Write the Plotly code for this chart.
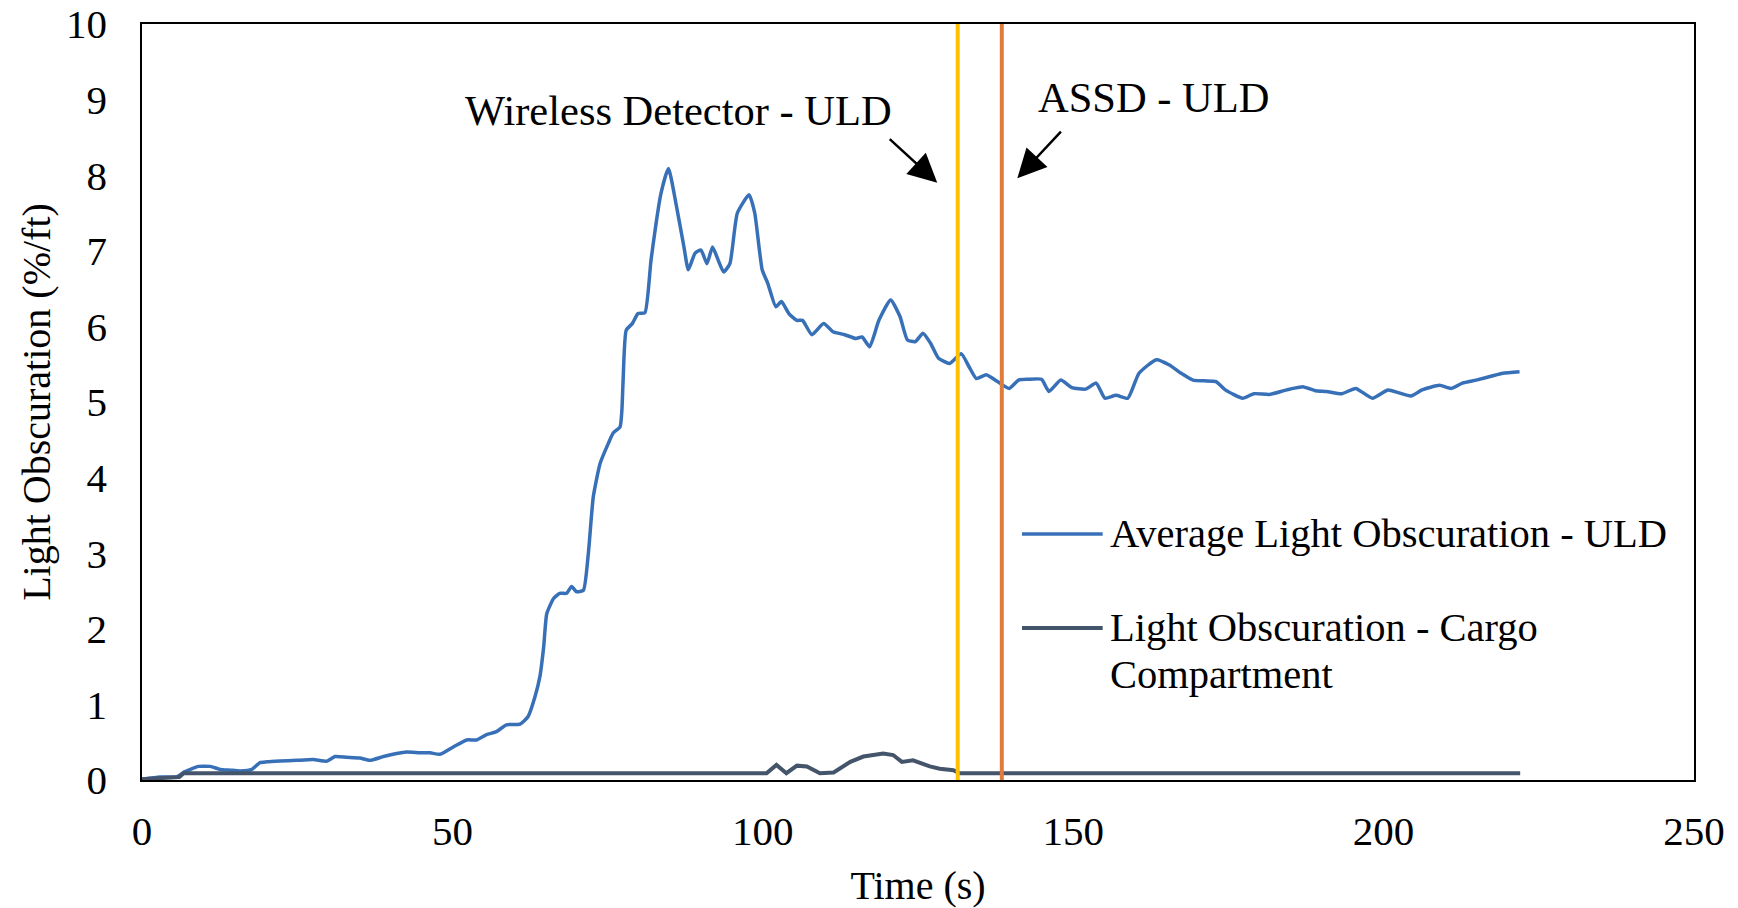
import plotly.graph_objects as go

# ---- data ----
uld_time = [0, 2.9, 5.6, 6.9, 9.1, 11.0, 12.6, 14.2, 15.8, 17.7, 19.0, 20.1, 22.2, 24.9, 27.6, 29.8,
            31.1, 33.0, 35.1, 36.7, 38.9, 41.0, 42.6, 44.8, 46.4, 48.0, 50.2, 52.3, 53.9, 55.5, 57.1,
            58.7, 60.9, 62.2, 63.3, 64.1, 64.7, 65.2, 66.3, 67.3, 68.4, 69.2, 70.0, 71.1, 71.9, 72.7,
            73.8, 75.1, 75.9, 77.0, 77.3, 77.5, 78.0, 79.0, 79.9, 81.0, 82.0, 83.6, 84.8, 86.0, 87.3,
            88.0, 89.1, 90.05, 91.0, 91.9, 92.8, 93.7, 94.7, 95.9, 97.8, 98.7, 99.9, 100.8, 102.1,
            103.0, 104.2, 105.5, 106.4, 107.9, 109.8, 111.3, 113.2, 115.0, 116.0, 117.2, 118.7, 120.6,
            122.1, 123.3, 124.6, 125.8, 127.0, 128.3, 130.1, 131.95, 133.2, 134.4, 136.0, 137.8,
            139.7, 141.2, 142.7, 144.9, 146.1, 148.0, 149.8, 152.0, 153.7, 155.1, 156.9, 158.8,
            160.6, 163.4, 165.5, 167.4, 169.3, 171.1, 173.0, 174.5, 177.3, 179.1, 181.6, 184.4,
            187.1, 189.0, 190.8, 193.3, 195.5, 198.2, 200.7, 202.5, 204.4, 206.2, 209.0, 210.9,
            212.7, 214.9, 217.3, 219.2, 221.9]
uld_obscuration = [0.01, 0.04, 0.04, 0.11, 0.18, 0.18, 0.14, 0.13, 0.12, 0.14, 0.23, 0.24, 0.25, 0.26,
                   0.27, 0.25, 0.31, 0.30, 0.29, 0.26, 0.31, 0.35, 0.37, 0.36, 0.36, 0.34, 0.44, 0.53,
                   0.53, 0.60, 0.64, 0.73, 0.74, 0.84, 1.10, 1.37, 1.76, 2.20, 2.40, 2.47, 2.47, 2.56,
                   2.49, 2.51, 3.00, 3.75, 4.19, 4.45, 4.59, 4.67, 4.89, 5.29, 5.95, 6.04, 6.17, 6.18,
                   6.88, 7.76, 8.09, 7.63, 7.05, 6.75, 6.97, 7.01, 6.83, 7.05, 6.88, 6.72, 6.83, 7.50,
                   7.74, 7.50, 6.75, 6.57, 6.26, 6.33, 6.17, 6.08, 6.08, 5.89, 6.04, 5.93, 5.89, 5.84,
                   5.86, 5.73, 6.08, 6.35, 6.13, 5.82, 5.80, 5.91, 5.78, 5.58, 5.51, 5.64, 5.47, 5.31,
                   5.36, 5.27, 5.18, 5.29, 5.30, 5.30, 5.14, 5.29, 5.19, 5.17, 5.25, 5.05, 5.09, 5.05,
                   5.38, 5.56, 5.49, 5.38, 5.29, 5.28, 5.27, 5.16, 5.05, 5.11, 5.10, 5.16, 5.20, 5.15,
                   5.14, 5.11, 5.18, 5.05, 5.16, 5.12, 5.08, 5.16, 5.22, 5.18, 5.25, 5.29, 5.34, 5.38,
                   5.40]

cargo_time = [0, 3, 6, 6.7, 100.6, 102.2, 103.8, 105.5, 107.1, 109.2, 111.4, 114.1, 116.2, 119.4,
              121.0, 122.4, 124.2, 126.9, 128.5, 130.7, 131.7, 222]
cargo_obscuration = [0.01, 0.03, 0.04, 0.09, 0.09, 0.20, 0.09, 0.19, 0.18, 0.09, 0.10, 0.24, 0.31,
                     0.35, 0.33, 0.24, 0.26, 0.18, 0.15, 0.13, 0.09, 0.09]

wireless_alarm_time = 131.4
assd_alarm_time = 138.5
y_range = [0, 10]
x_range = [0, 250]

series_names = ["Average Light Obscuration - ULD", "Light Obscuration - Cargo Compartment"]

FONT = "Liberation Serif, Times New Roman, serif"
BLUE = "#3870B8"
DARK = "#44546A"
YELLOW = "#FFC000"
ORANGE = "#E07B3C"

fig = go.Figure()
fig.add_trace(go.Scatter(x=uld_time, y=uld_obscuration, mode="lines", name=series_names[0],
                         line=dict(color=BLUE, width=3.5, shape="spline", smoothing=0.5),
                         showlegend=False))
fig.add_trace(go.Scatter(x=cargo_time, y=cargo_obscuration, mode="lines", name=series_names[1],
                         line=dict(color=DARK, width=4), showlegend=False))
fig.add_trace(go.Scatter(x=[wireless_alarm_time, wireless_alarm_time], y=y_range, mode="lines",
                         name="Wireless Detector - ULD", line=dict(color=YELLOW, width=4),
                         showlegend=False))
fig.add_trace(go.Scatter(x=[assd_alarm_time, assd_alarm_time], y=y_range, mode="lines",
                         name="ASSD - ULD", line=dict(color=ORANGE, width=4), showlegend=False))

# manual legend
legend_lines = [(0.3254, BLUE, 3.5), (0.2011, DARK, 4)]
for yy, col, w in legend_lines:
    fig.add_shape(type="line", xref="paper", yref="paper", x0=0.567, x1=0.619, y0=yy, y1=yy,
                  line=dict(color=col, width=w))
lfont = dict(family=FONT, size=40.5, color="black")
afont = dict(family=FONT, size=42.5, color="black")
fig.add_annotation(xref="paper", yref="paper", x=0.6224, y=0.3254, xanchor="left", yanchor="middle",
                   text=series_names[0], showarrow=False, font=lfont)
fig.add_annotation(xref="paper", yref="paper", x=0.6224, y=0.2011, xanchor="left", yanchor="middle",
                   text="Light Obscuration - Cargo", showarrow=False, font=lfont)
fig.add_annotation(xref="paper", yref="paper", x=0.6224, y=0.1402, xanchor="left", yanchor="middle",
                   text="Compartment", showarrow=False, font=lfont)

# labels and arrows
fig.add_annotation(x=86.4, y=8.86, text="Wireless Detector - ULD", showarrow=False, font=afont)
fig.add_annotation(x=163.0, y=9.03, text="ASSD - ULD", showarrow=False, font=afont)
fig.add_annotation(x=128.1, y=7.9, ax=-49, ay=-45, text="", showarrow=True, arrowhead=2,
                   arrowsize=2.3, arrowwidth=2.5, arrowcolor="black", standoff=0)
fig.add_annotation(x=141.0, y=7.96, ax=45, ay=-48, text="", showarrow=True, arrowhead=2,
                   arrowsize=2.3, arrowwidth=2.5, arrowcolor="black", standoff=0)

axis_common = dict(showgrid=False, zeroline=False, showline=True, linecolor="black", linewidth=1.5,
                   mirror=True, ticks="", tickfont=dict(family=FONT, size=41, color="black"),
                   title_font=dict(family=FONT, size=40, color="black"))
fig.update_xaxes(range=x_range, dtick=50, tick0=0, title_text="Time (s)", title_standoff=25,
                 ticklabelstandoff=14, **axis_common)
fig.update_yaxes(range=y_range, dtick=1, tick0=0, title_text="Light Obscuration (%/ft)",
                 title_standoff=3, ticklabelstandoff=25, **axis_common)

fig.update_layout(width=1738, height=908, margin=dict(l=142, r=44, t=24, b=128, autoexpand=False),
                  paper_bgcolor="white", plot_bgcolor="white", font=dict(family=FONT))

fig.write_html("out.html")
